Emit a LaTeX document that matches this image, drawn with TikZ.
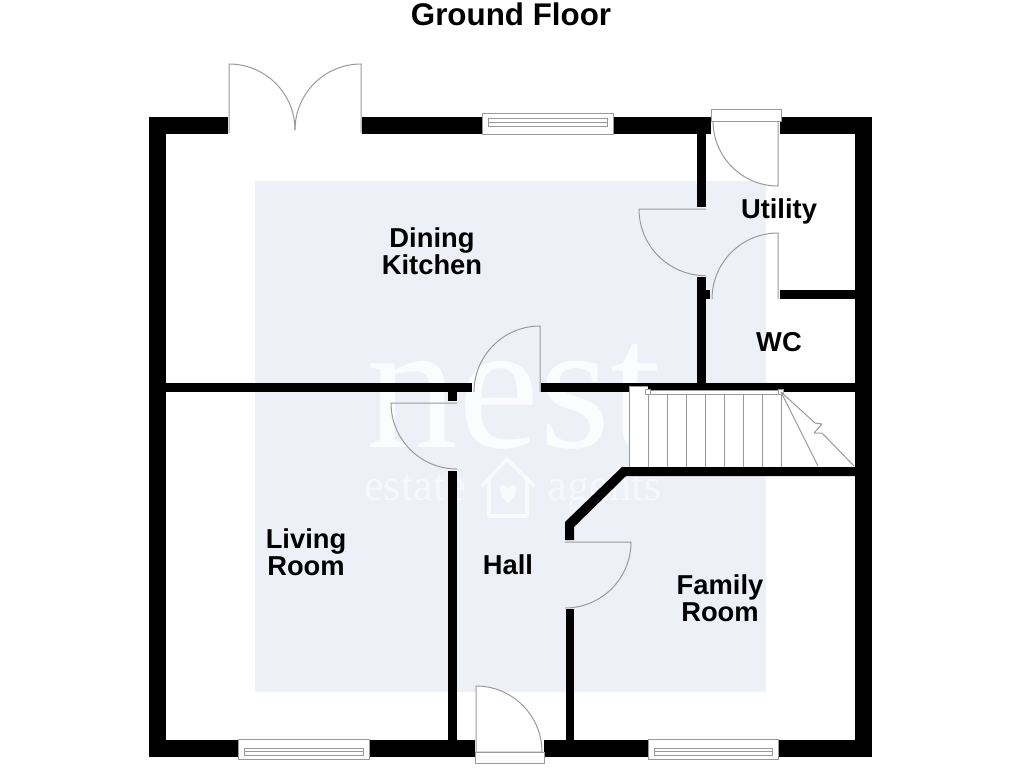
\documentclass[tikz,border=0pt]{standalone}
\usepackage{fontspec}
\setmainfont{Liberation Sans}
\newfontfamily\wmfont{Liberation Serif}
\definecolor{tint}{HTML}{EEF0F8}
\definecolor{thin}{HTML}{9A9A9A}
\tikzset{
  wall/.style={fill=black,draw=none},
  lab/.style={font=\fontsize{20.5}{20.3}\selectfont\bfseries,align=center,text=black,inner sep=0pt},
  title/.style={font=\fontsize{23.5}{24}\selectfont\bfseries,text=black,inner sep=0pt},
  fine/.style={draw=thin,line width=0.75pt},
  framing/.style={draw=thin,line width=0.75pt,fill=white},
  bigmark/.style={anchor=base,text=white,font=\fontsize{137}{137}\selectfont\wmfont,inner sep=0pt},
  smallmark/.style={anchor=base,text=white,font=\fontsize{33.5}{33.5}\selectfont\wmfont,inner sep=0pt}
}
\begin{document}
\begin{tikzpicture}[x=0.75pt,y=-0.75pt]
\useasboundingbox (0,0) rectangle (1024,768);
\fill[white] (0,0) rectangle (1024,768);
% tinted area and watermark
\fill[tint] (255,181) rectangle (766,692);
\begin{scope}[text opacity=0.8]
\node[bigmark] (wm1) at (514,447) {nest};
\end{scope}
\begin{scope}[text opacity=0.55]
\node[smallmark] (wm2) at (415,500) {estate};
\node[smallmark] (wm3) at (604.5,500) {agents};
\end{scope}
\begin{scope}[opacity=0.7]
\draw[white,line width=2.6pt,line join=round,line cap=round] (482,486) -- (507,459) -- (534,486);
\draw[white,line width=2.6pt,line join=round] (489,478) -- (489,516) -- (527,516) -- (527,478);
\fill[white] (508,503) .. controls (498,495) and (498,485) .. (503,485) .. controls (506,485) and (508,487) .. (508,489) .. controls (508,487) and (510,485) .. (513,485) .. controls (518,485) and (518,495) .. (508,503) -- cycle;
\end{scope}
% walls
\fill[wall] (149,117) rectangle (228,134);
\fill[wall] (362,117) rectangle (482,134);
\fill[wall] (613,117) rectangle (711,134);
\fill[wall] (780,117) rectangle (872,134);
\fill[wall] (149,117) rectangle (166,757);
\fill[wall] (855,117) rectangle (872,757);
\fill[wall] (149,740) rectangle (475,757);
\fill[wall] (544,740) rectangle (872,757);
\fill[wall] (166,383) rectangle (472,392);
\fill[wall] (541,383) rectangle (855,392);
\fill[wall] (448,392) rectangle (457,401);
\fill[wall] (448,471) rectangle (457,740);
\fill[wall] (566,609) rectangle (574,740);
\fill[wall] (565,540) -- (565,522) -- (622,467) -- (855,467) -- (855,476) -- (626,476) -- (574,527) -- (574,540) -- cycle;
\fill[wall] (697,134) rectangle (706,207);
\fill[wall] (697,277) rectangle (706,383);
\fill[wall] (706,290) rectangle (710,299);
\fill[wall] (780,290) rectangle (855,299);
% windows
\draw[framing] (482,113) rectangle (613,134);
\draw[framing] (488,118) rectangle (607,126);
\draw[fine] (488,122) -- (607,122);
\draw[framing] (238,739) rectangle (369,759);
\draw[framing] (244,748) rectangle (363,755);
\draw[fine] (244,751.5) -- (363,751.5);
\draw[framing] (648,739) rectangle (778,759);
\draw[framing] (654,748) rectangle (772,755);
\draw[fine] (654,751.5) -- (772,751.5);
% french doors
\draw[fine] (229,133) -- (229,64) arc[start angle=90,end angle=0,radius=49.5pt];
\draw[fine] (361,133) -- (361,64) arc[start angle=90,end angle=180,radius=49.5pt];
% exterior utility door
\draw[framing] (713,121) arc[start angle=180,end angle=270,radius=48.75pt] -- (778,121) -- cycle;
\draw[framing] (711,109) rectangle (781,121);
% internal doors
\draw[fine] (706,209) -- (639,209) arc[start angle=180,end angle=270,radius=50pt];
\draw[fine] (778,299) -- (778,233) arc[start angle=90,end angle=180,radius=49.5pt];
\draw[fine] (540,392) -- (540,326) arc[start angle=90,end angle=180,radius=49.5pt];
\draw[fine] (457,403) -- (391,403) arc[start angle=180,end angle=270,radius=49.5pt];
\draw[fine] (565,542) -- (631,542) arc[start angle=0,end angle=-90,radius=49.5pt];
% front door
\draw[framing] (476,752) -- (476,686) arc[start angle=90,end angle=0,radius=49.5pt] -- cycle;
\draw[framing] (475,752) rectangle (544,763);
% stairs
\fill[white] (629,386) rectangle (781,467);
\fill[black] (648,384) rectangle (781,392);
\draw[fine] (629,467) -- (629,386) -- (648,386);
\foreach \sx in {648,667,686,705,724,743,762,781}{\draw[fine] (\sx,392) -- (\sx,467);}
\draw[framing] (648,390.5) rectangle (781,394.5);
\draw[framing] (645.5,389.5) rectangle (650.5,394.5);
\draw[framing] (778.5,389.5) rectangle (783.5,394.5);
\draw[fine] (781,392) -- (818,466);
\draw[fine,line join=bevel] (781,392) -- (815,423) -- (822,424) -- (814,433) -- (822,433) -- (854,466);
% labels
\node[title] (t) at (511,14) {Ground Floor};
\node[lab] (dk) at (432,251.5) {Dining\\Kitchen};
\node[lab] (ut) at (779,211) {Utility};
\node[lab] (wc) at (779,342) {WC};
\node[lab] (lr) at (306,552.5) {Living\\Room};
\node[lab] (ha) at (508,565) {Hall};
\node[lab] (fr) at (720,598.5) {Family\\Room};
\end{tikzpicture}
\end{document}
